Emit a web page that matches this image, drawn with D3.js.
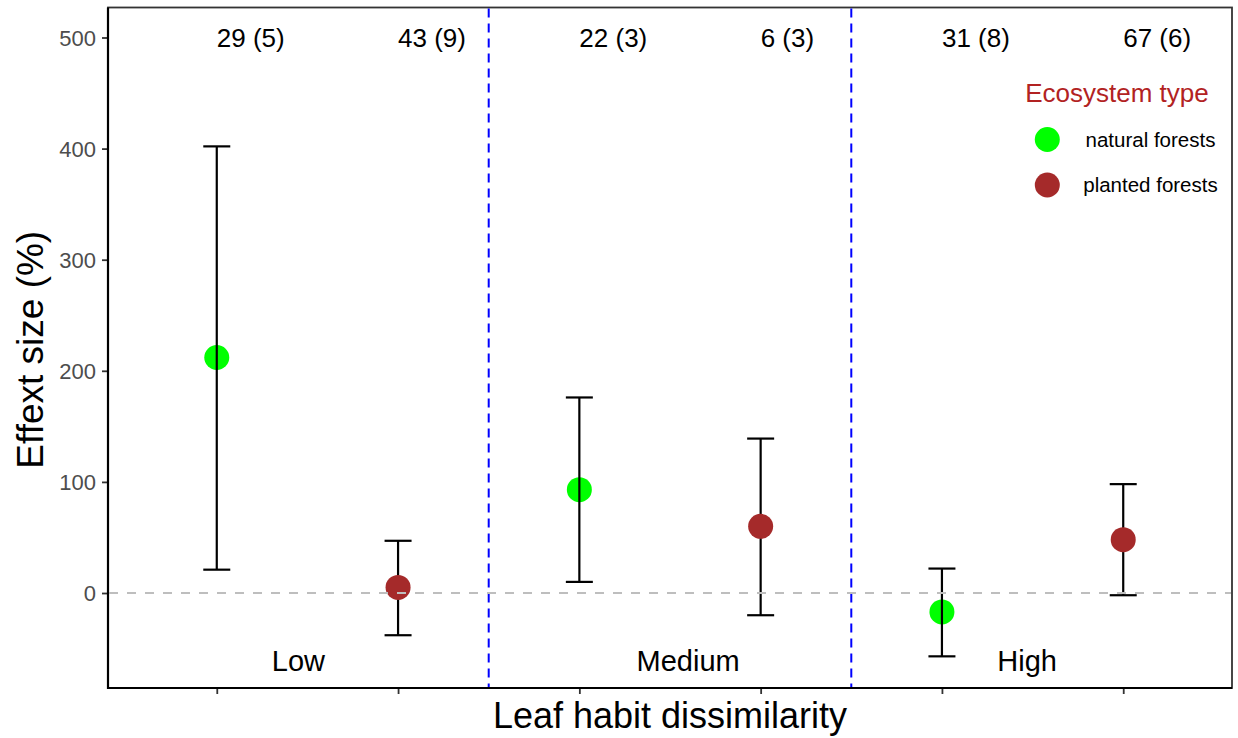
<!DOCTYPE html>
<html>
<head>
<meta charset="utf-8">
<script src="https://cdn.jsdelivr.net/npm/d3@7"></script>
<style>
  html, body { margin: 0; padding: 0; background: #fff; }
  svg { display: block; font-family: "Liberation Sans", Arial, sans-serif; }
</style>
</head>
<body>
<svg id="chart" width="1238" height="738"></svg>
<script>
// Effect size (%) of mixing by leaf habit dissimilarity and ecosystem type
const positions   = [1, 2, 3, 4, 5, 6];
const ecosystems  = ["natural forests", "planted forests", "natural forests", "planted forests", "natural forests", "planted forests"];
const meanEffect  = [212, 5, 93, 60, -17, 48];
const lowerCI     = [21, -38, 10, -20, -57, -2];
const upperCI     = [402, 47, 176, 139, 22, 98];
const sampleLabels = ["29 (5)", "43 (9)", "22 (3)", "6 (3)", "31 (8)", "67 (6)"];

const groupNames  = ["Low", "Medium", "High"];
const groupPos    = [1.45, 3.6, 5.47];
const dividers    = [2.5, 4.5];

const yTicks      = [0, 100, 200, 300, 400, 500];
const legendKeys  = ["natural forests", "planted forests"];
const legendColors = ["#00FF00", "#A52A2A"];

(function () {
const svg = d3.select("#chart");
const pLeft = 108, pRight = 1232, pTop = 7.5, pBottom = 688;

const x = d3.scaleLinear().domain([0.4, 6.6]).range([pLeft, pRight]);
const y = d3.scaleLinear().domain([-85.5, 527]).range([pBottom, pTop]);
const color = d3.scaleOrdinal().domain(legendKeys).range(legendColors);

const rows = positions.map((p, i) => ({
  pos: p, eco: ecosystems[i], mean: meanEffect[i],
  lo: lowerCI[i], hi: upperCI[i], label: sampleLabels[i]
}));

// Panel frame
svg.append("rect")
  .attr("x", pLeft).attr("y", pTop)
  .attr("width", pRight - pLeft).attr("height", pBottom - pTop)
  .attr("fill", "none").attr("stroke", "#333").attr("stroke-width", 1.8);

// Axes
const yAxis = svg.append("g")
  .attr("transform", `translate(${pLeft},0)`)
  .call(d3.axisLeft(y).tickValues(yTicks).tickSize(6).tickPadding(6).tickFormat(d3.format("d")));
yAxis.select(".domain").remove();
yAxis.selectAll(".tick line").attr("stroke", "#333").attr("stroke-width", 1.8);
yAxis.selectAll(".tick text").attr("fill", "#4d4d4d").attr("font-size", 22)
  .attr("font-family", "Liberation Sans, Arial, sans-serif").attr("dy", "0.36em");

const xAxis = svg.append("g")
  .attr("transform", `translate(0,${pBottom})`)
  .call(d3.axisBottom(x).tickValues(positions).tickSize(6).tickFormat(""));
xAxis.select(".domain").remove();
xAxis.selectAll(".tick line").attr("stroke", "#333").attr("stroke-width", 1.8);

// Axis lines (left and bottom)
svg.append("line").attr("x1", pLeft).attr("x2", pLeft).attr("y1", pTop).attr("y2", pBottom + 1)
  .attr("stroke", "#000").attr("stroke-width", 2.2);
svg.append("line").attr("x1", pLeft - 1).attr("x2", pRight).attr("y1", pBottom).attr("y2", pBottom)
  .attr("stroke", "#000").attr("stroke-width", 2.2);

// Group dividers
svg.append("g").selectAll("line").data(dividers).join("line")
  .attr("x1", d => x(d)).attr("x2", d => x(d))
  .attr("y1", pTop + 1).attr("y2", pBottom - 1)
  .attr("stroke", "#0000FF").attr("stroke-width", 2)
  .attr("stroke-dasharray", "9,6");

// Natural-forest points (underneath the error bars)
svg.append("g").selectAll("circle").data(rows.filter(d => d.eco === "natural forests")).join("circle")
  .attr("cx", d => x(d.pos)).attr("cy", d => y(d.mean)).attr("r", 12.5)
  .attr("fill", d => color(d.eco));

// Error bars
const eb = svg.append("g").attr("stroke", "#000").attr("stroke-width", 2.2);
rows.forEach(d => {
  const cx = x(d.pos);
  eb.append("line").attr("x1", cx).attr("x2", cx).attr("y1", y(d.lo)).attr("y2", y(d.hi));
  eb.append("line").attr("x1", cx - 13.5).attr("x2", cx + 13.5).attr("y1", y(d.lo)).attr("y2", y(d.lo));
  eb.append("line").attr("x1", cx - 13.5).attr("x2", cx + 13.5).attr("y1", y(d.hi)).attr("y2", y(d.hi));
});

// Planted-forest points
svg.append("g").selectAll("circle").data(rows.filter(d => d.eco === "planted forests")).join("circle")
  .attr("cx", d => x(d.pos)).attr("cy", d => y(d.mean)).attr("r", 12.5)
  .attr("fill", d => color(d.eco));

// Zero reference line
svg.append("line")
  .attr("x1", pLeft + 1).attr("x2", pRight - 1).attr("y1", y(0)).attr("y2", y(0))
  .attr("stroke", "#BEBEBE").attr("stroke-width", 2).attr("stroke-dasharray", "9,9");

// Sample size labels
svg.append("g").selectAll("text").data(rows).join("text")
  .attr("x", d => x(d.pos)).attr("y", y(500)).attr("dy", "0.36em")
  .attr("font-size", 26).attr("fill", "#000")
  .text(d => d.label);

// Group labels
svg.append("g").selectAll("text").data(groupNames).join("text")
  .attr("x", (d, i) => x(groupPos[i])).attr("y", y(-70))
  .attr("text-anchor", "middle").attr("font-size", 29).attr("fill", "#000")
  .text(d => d);

// Axis titles
svg.append("text")
  .attr("x", (pLeft + pRight) / 2).attr("y", 728)
  .attr("text-anchor", "middle").attr("font-size", 36).attr("fill", "#000")
  .text("Leaf habit dissimilarity");
svg.append("text")
  .attr("transform", `translate(43,${(pTop + pBottom) / 2 + 2}) rotate(-90)`)
  .attr("text-anchor", "middle").attr("font-size", 37).attr("fill", "#000")
  .text("Effext size (%)");

// Legend
const legend = svg.append("g");
legend.append("text")
  .attr("x", 1117).attr("y", 101.5).attr("text-anchor", "middle")
  .attr("font-size", 26).attr("fill", "#B22222")
  .text("Ecosystem type");
const items = legend.selectAll("g.item").data(legendKeys).join("g").attr("class", "item")
  .attr("transform", (d, i) => `translate(0,${139.5 + i * 45.5})`);
items.append("circle").attr("cx", 1047.3).attr("cy", 0).attr("r", 12.5).attr("fill", d => color(d));
items.append("text").attr("x", 1150.5).attr("y", 7.3).attr("text-anchor", "middle")
  .attr("font-size", 20.5).attr("fill", "#000").text(d => d);
})();
</script>
</body>
</html>
